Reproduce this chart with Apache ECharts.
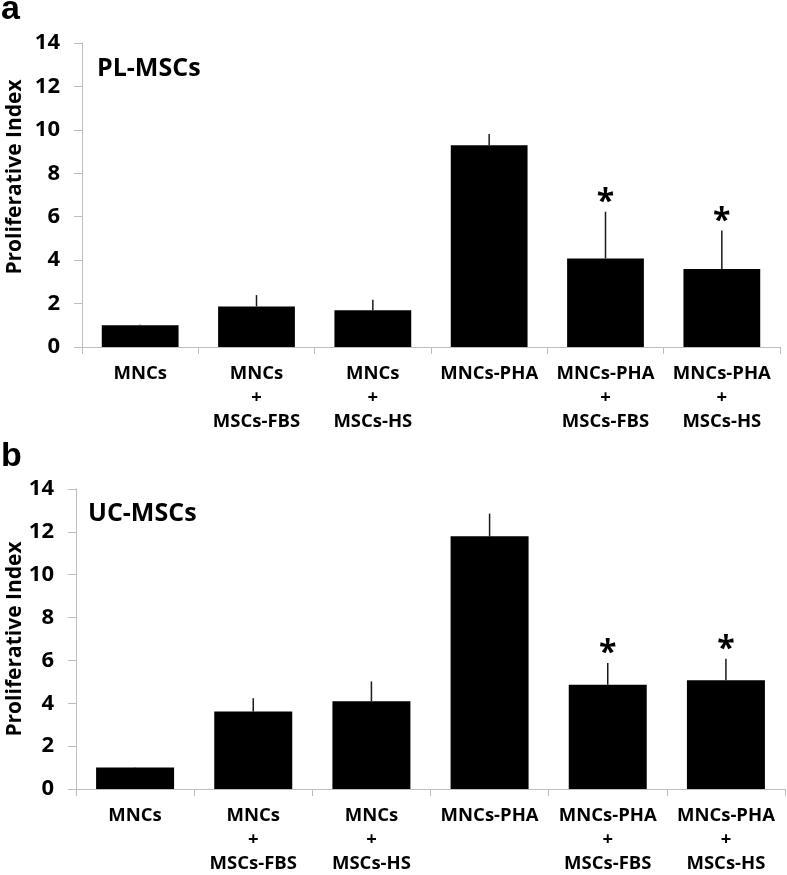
<!DOCTYPE html>
<html>
<head>
<meta charset="utf-8">
<script src="https://cdn.jsdelivr.net/npm/echarts@6/dist/echarts.min.js"></script>
<style>html,body{margin:0;padding:0;background:#fff}#c{width:787px;height:875px}</style>
</head>
<body>
<div id="c"></div>
<script>
var categories = ['MNCs', 'MNCs\n+\nMSCs-FBS', 'MNCs\n+\nMSCs-HS', 'MNCs-PHA', 'MNCs-PHA\n+\nMSCs-FBS', 'MNCs-PHA\n+\nMSCs-HS'];
var plMeans = [1.0, 1.87, 1.69, 9.29, 4.08, 3.59];
var plErrTop = [1.03, 2.39, 2.18, 9.81, 6.23, 5.37];
var plSig = [false, false, false, false, true, true];
var ucMeans = [1.0, 3.62, 4.09, 11.79, 4.87, 5.07];
var ucErrTop = [1.01, 4.23, 5.02, 12.85, 5.88, 6.08];
var ucSig = [false, false, false, false, true, true];
var yTicks = [0, 2, 4, 6, 8, 10, 12, 14];

var FONT = '"Open Sans", sans-serif';

function errData(means, tops, sig) {
  return means.map(function (m, i) { return [i, m, tops[i], sig[i] ? 1 : 0]; });
}
function renderErr(params, api) {
  var i = api.value(0);
  var lo = api.coord([i, api.value(1)]);
  var hi = api.coord([i, api.value(2)]);
  var children = [{
    type: 'line',
    shape: { x1: lo[0], y1: lo[1], x2: hi[0], y2: hi[1] },
    style: { stroke: '#1a1a1a', lineWidth: 1.5 }
  }];
  if (api.value(3)) {
    children.push({
      type: 'text',
      style: {
        text: '*', x: hi[0], y: hi[1] - 9,
        textAlign: 'center', textVerticalAlign: 'middle',
        font: 'bold 32px ' + FONT, fill: '#000'
      }
    });
  }
  return { type: 'group', children: children };
}

function xAxisCfg(gi) {
  return {
    type: 'category', gridIndex: gi, data: categories,
    axisLine: { lineStyle: { color: '#bdbdbd', width: 1 } },
    axisTick: { show: true, length: 7, lineStyle: { color: '#bdbdbd' } },
    axisLabel: { interval: 0, color: '#000', fontFamily: FONT, fontWeight: 'bold', fontSize: 18.5, lineHeight: 24, margin: 15 }
  };
}
function yAxisCfg(gi, gap, pad) {
  return {
    type: 'value', gridIndex: gi, min: yTicks[0], max: yTicks[yTicks.length - 1], interval: 2,
    name: 'Proliferative Index', nameLocation: 'middle', nameGap: gap, nameMoveOverlap: false,
    nameTextStyle: { color: '#000', fontFamily: FONT, fontWeight: 'bold', fontSize: 21, padding: [0, 0, 0, pad] },
    axisLine: { show: true, lineStyle: { color: '#bdbdbd', width: 1 } },
    axisTick: { show: true, length: 8, lineStyle: { color: '#bdbdbd' } },
    axisLabel: { color: '#000', fontFamily: FONT, fontWeight: 'bold', fontSize: 22, margin: 22 },
    splitLine: { show: false }
  };
}

var chart = echarts.init(document.getElementById('c'), null, { renderer: 'canvas' });
chart.setOption({
  animation: false,
  backgroundColor: '#fff',
  grid: [
    { left: 82, top: 43, width: 698, height: 304, containLabel: false, outerBoundsMode: 'none' },
    { left: 76, top: 489, width: 709, height: 300, containLabel: false, outerBoundsMode: 'none' }
  ],
  xAxis: [xAxisCfg(0), xAxisCfg(1)],
  yAxis: [yAxisCfg(0, 56, 36), yAxisCfg(1, 50, 0)],
  graphic: [
    { type: 'text', x: 1, y: 10, style: { text: 'a', font: 'bold 34px "Liberation Sans", Arial, sans-serif', fill: '#000', textVerticalAlign: 'middle' } },
    { type: 'text', x: 97, y: 68.5, style: { text: 'PL-MSCs', font: 'bold 25px ' + FONT, fill: '#000', textVerticalAlign: 'middle' } },
    { type: 'text', x: 1, y: 457, style: { text: 'b', font: 'bold 34px "Liberation Sans", Arial, sans-serif', fill: '#000', textVerticalAlign: 'middle' } },
    { type: 'text', x: 88, y: 513.5, style: { text: 'UC-MSCs', font: 'bold 25px ' + FONT, fill: '#000', textVerticalAlign: 'middle' } }
  ],
  series: [
    { type: 'bar', xAxisIndex: 0, yAxisIndex: 0, data: plMeans, barWidth: '66%', itemStyle: { color: '#000' } },
    { type: 'custom', xAxisIndex: 0, yAxisIndex: 0, data: errData(plMeans, plErrTop, plSig), renderItem: renderErr, z: 5 },
    { type: 'bar', xAxisIndex: 1, yAxisIndex: 1, data: ucMeans, barWidth: '66%', itemStyle: { color: '#000' } },
    { type: 'custom', xAxisIndex: 1, yAxisIndex: 1, data: errData(ucMeans, ucErrTop, ucSig), renderItem: renderErr, z: 5 }
  ]
});
</script>
</body>
</html>
